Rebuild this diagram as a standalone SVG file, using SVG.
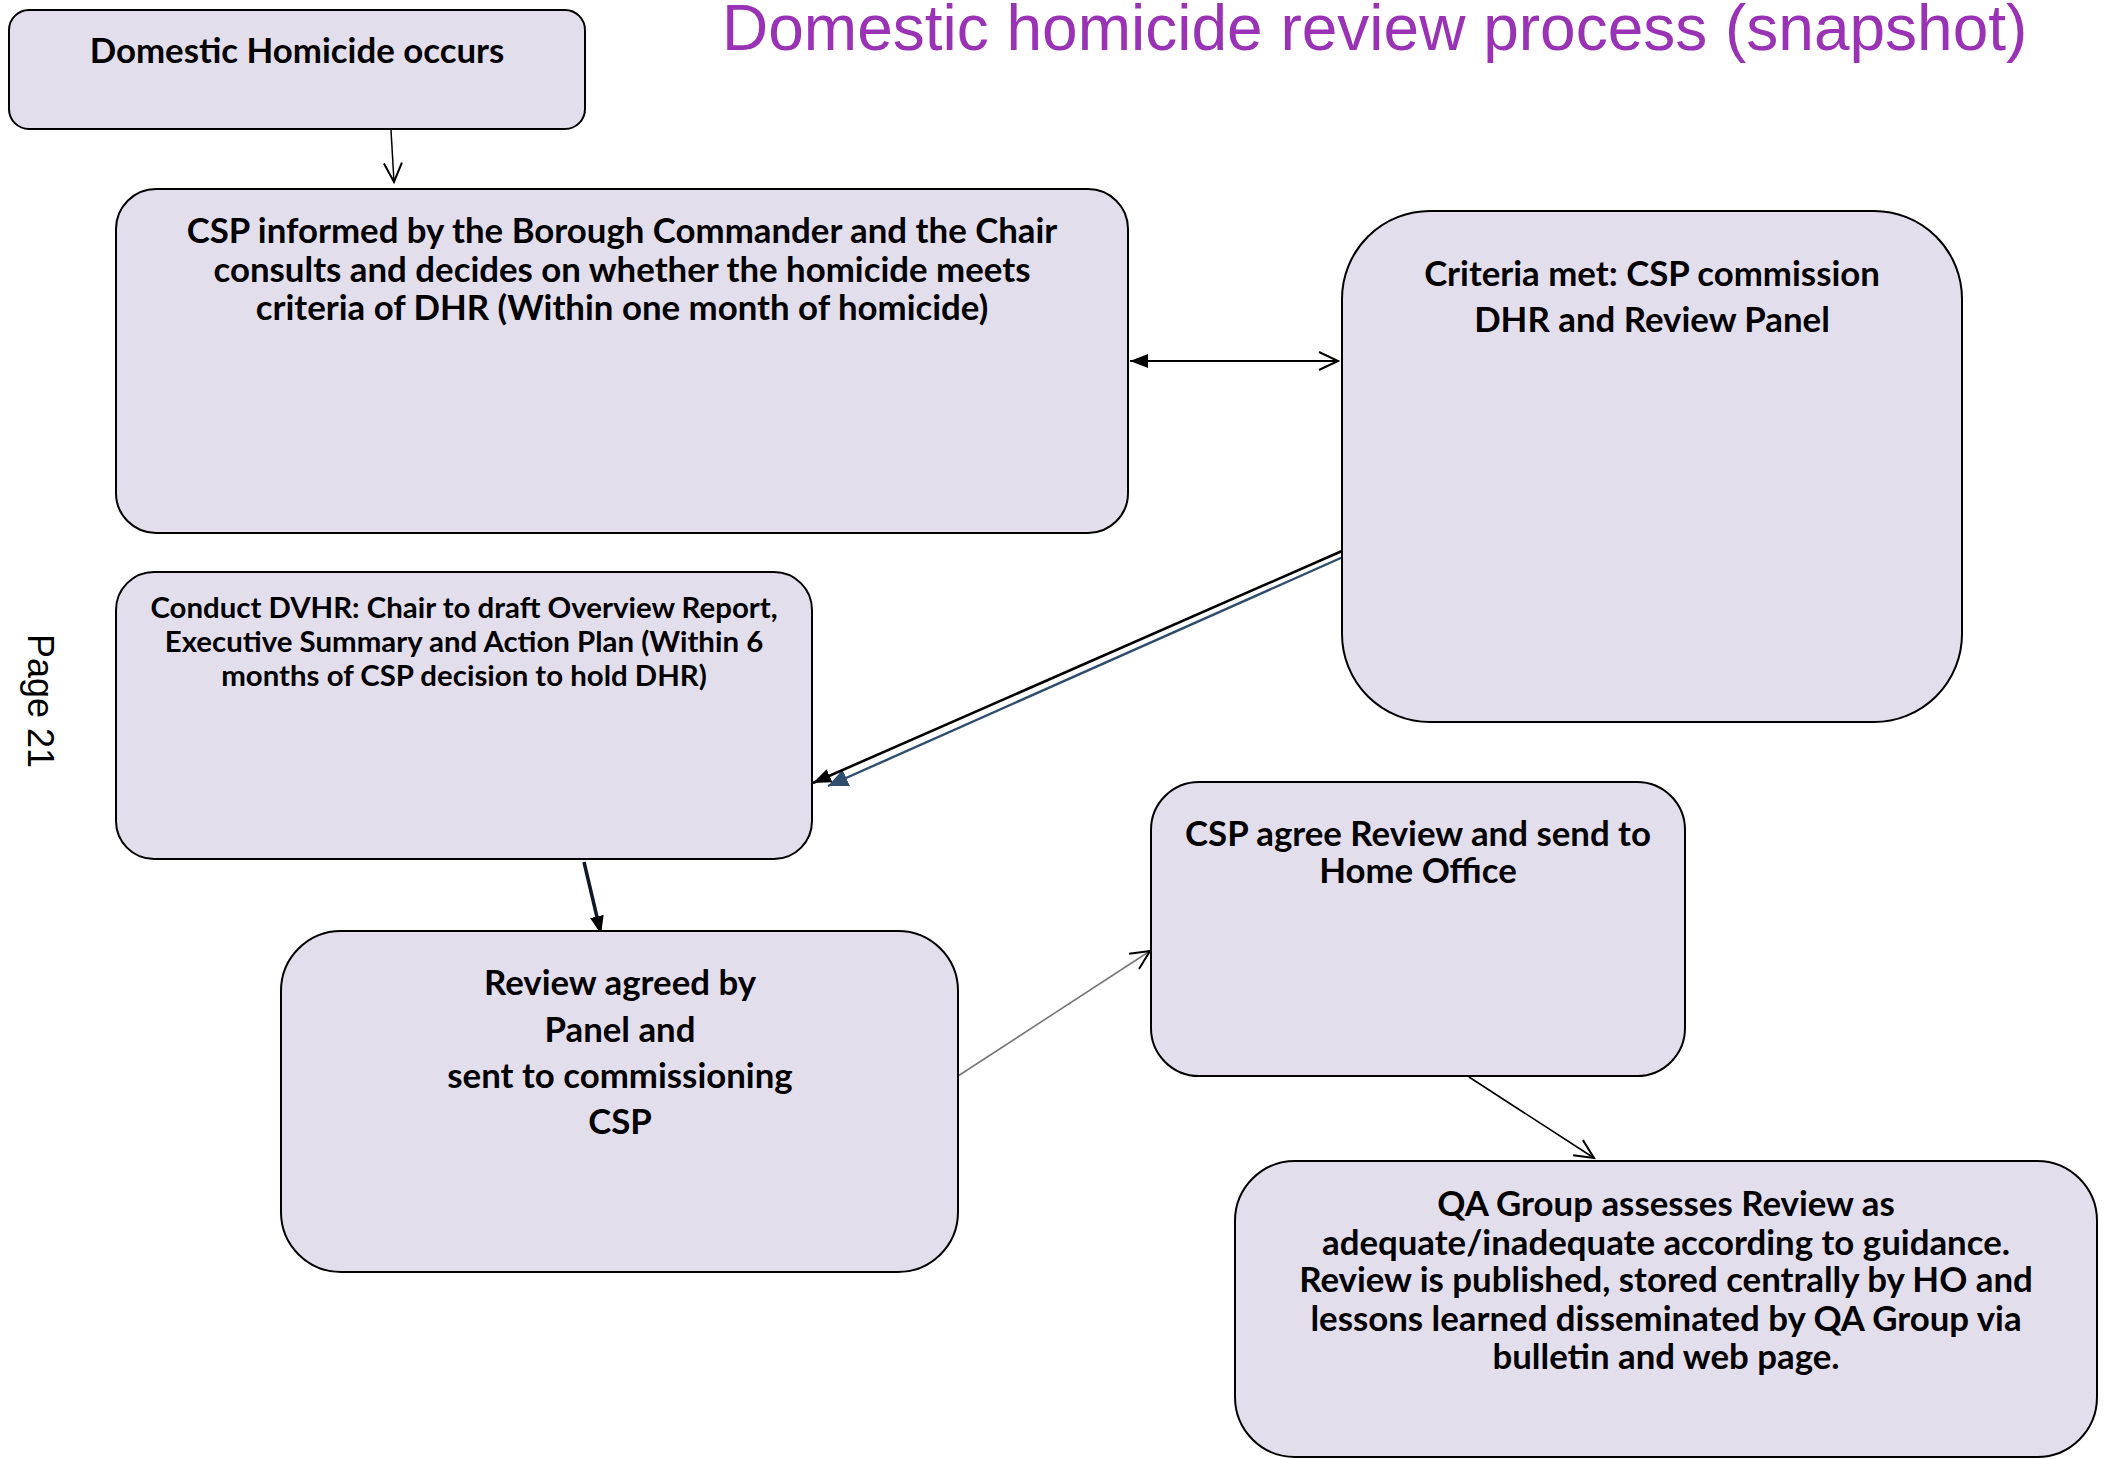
<svg xmlns="http://www.w3.org/2000/svg" width="2109" height="1459" viewBox="0 0 2109 1459">
<style>
.box{fill:#e3deeb;stroke:#000;stroke-width:2}
.t{font-family:Lato,"Liberation Sans",sans-serif;font-weight:700;font-size:34.8px;fill:#000;text-anchor:middle}
.ts{font-size:29.4px}
.title{font-family:"Liberation Sans",Arial,sans-serif;font-size:64px;fill:#9a32b6}
.pg{font-family:"Liberation Sans",Arial,sans-serif;font-size:36px;fill:#000}
</style>
<defs>
<marker id="open" markerUnits="userSpaceOnUse" markerWidth="24" markerHeight="24" refX="20" refY="10" orient="auto-start-reverse" viewBox="0 0 24 24">
<path d="M1,1 L20,10 L1,19" fill="none" stroke="#000" stroke-width="2"/>
</marker>
<marker id="fill" markerUnits="userSpaceOnUse" markerWidth="22" markerHeight="16" refX="18" refY="7" orient="auto-start-reverse" viewBox="0 0 22 16">
<path d="M0,0 L18,7 L0,14 z" fill="#000"/>
</marker>
<marker id="fillblue" markerUnits="userSpaceOnUse" markerWidth="24" markerHeight="20" refX="20" refY="9" orient="auto" viewBox="0 0 24 20">
<path d="M0,0 L20,9 L0,18 z" fill="#2f4d6e"/>
</marker>
</defs>
<rect width="2109" height="1459" fill="#fff"/>
<text class="title" x="722" y="50">Domestic homicide review process (snapshot)</text>
<text class="pg" transform="translate(28,634) rotate(90)">Page 21</text>

<g id="connectors">
<line x1="391" y1="130" x2="394" y2="182" stroke="#000" stroke-width="1.5" marker-end="url(#open)"/>
<line x1="1130" y1="361" x2="1338" y2="361" stroke="#000" stroke-width="2.2" marker-start="url(#fill)" marker-end="url(#open)"/>
<line x1="1343" y1="557" x2="828" y2="786" stroke="#2f4d6e" stroke-width="2.4" marker-end="url(#fillblue)"/>
<line x1="1342" y1="551" x2="813" y2="783" stroke="#000" stroke-width="2.6" marker-end="url(#fill)"/>
<line x1="584" y1="862" x2="601" y2="934" stroke="#101828" stroke-width="3.5" marker-end="url(#fill)"/>
<line x1="958" y1="1076" x2="1150" y2="951" stroke="#777" stroke-width="1.6" marker-end="url(#open)"/>
<line x1="1469" y1="1077" x2="1594" y2="1158" stroke="#000" stroke-width="1.6" marker-end="url(#open)"/>
</g>

<g id="n1">
<rect class="box" x="9" y="10" width="576" height="119" rx="20"/>
<text class="t" x="297" y="63">Domestic Homicide occurs</text>
</g>
<g id="n2">
<rect class="box" x="116" y="189" width="1012" height="344" rx="40"/>
<text class="t" x="622" y="243">CSP informed by the Borough Commander and the Chair</text>
<text class="t" x="622" y="282">consults and decides on whether the homicide meets</text>
<text class="t" x="622" y="320">criteria of DHR (Within one month of homicide)</text>
</g>
<g id="n3">
<rect class="box" x="1342" y="211" width="620" height="511" rx="88"/>
<text class="t" x="1652" y="286">Criteria met: CSP commission</text>
<text class="t" x="1652" y="332">DHR and Review Panel</text>
</g>
<g id="n4">
<rect class="box" x="116" y="572" width="696" height="287" rx="38"/>
<text class="t ts" x="464" y="618">Conduct DVHR: Chair to draft Overview Report,</text>
<text class="t ts" x="464" y="652">Executive Summary and Action Plan (Within 6</text>
<text class="t ts" x="464" y="686">months of CSP decision to hold DHR)</text>
</g>
<g id="n5">
<rect class="box" x="281" y="931" width="677" height="341" rx="60"/>
<text class="t" x="620" y="995">Review agreed by</text>
<text class="t" x="620" y="1042">Panel and</text>
<text class="t" x="620" y="1088">sent to commissioning</text>
<text class="t" x="620" y="1134">CSP</text>
</g>
<g id="n6">
<rect class="box" x="1151" y="782" width="534" height="294" rx="48"/>
<text class="t" x="1418" y="846">CSP agree Review and send to</text>
<text class="t" x="1418" y="883">Home Office</text>
</g>
<g id="n7">
<rect class="box" x="1235" y="1161" width="862" height="296" rx="60"/>
<text class="t" x="1666" y="1216">QA Group assesses Review as</text>
<text class="t" x="1666" y="1255">adequate/inadequate according to guidance.</text>
<text class="t" x="1666" y="1292">Review is published, stored centrally by HO and</text>
<text class="t" x="1666" y="1331">lessons learned disseminated by QA Group via</text>
<text class="t" x="1666" y="1369">bulletin and web page.</text>
</g>
</svg>
